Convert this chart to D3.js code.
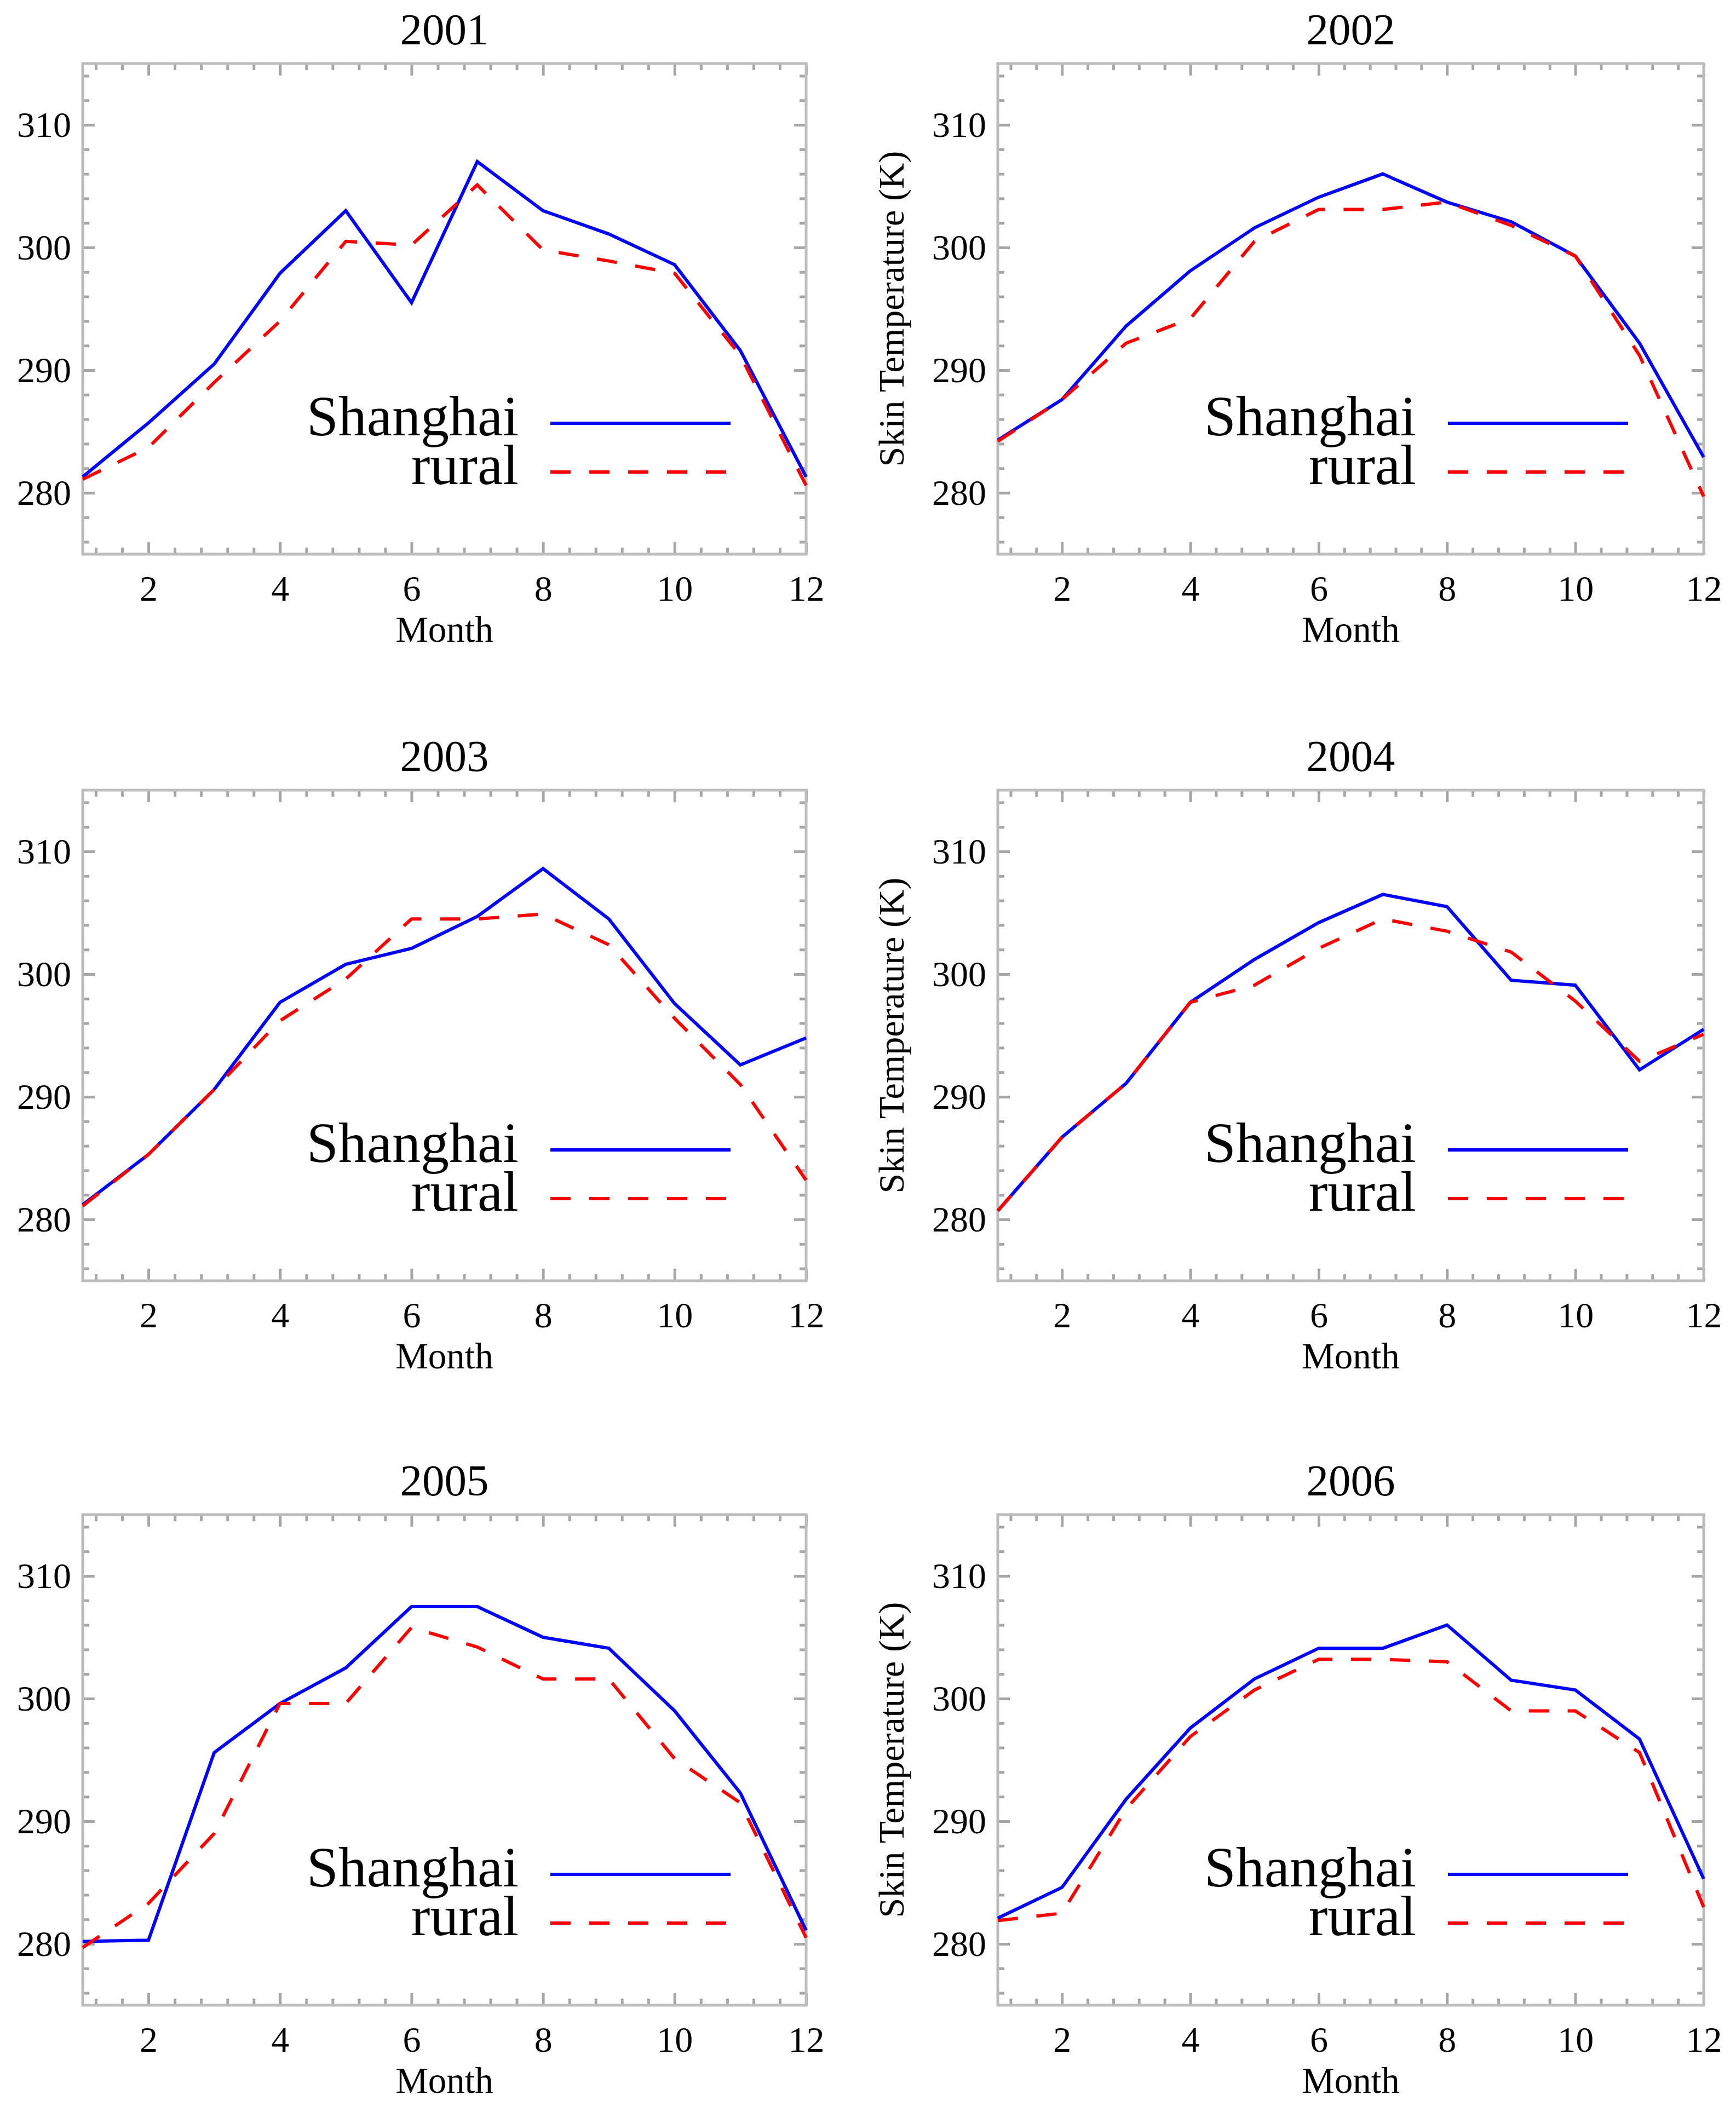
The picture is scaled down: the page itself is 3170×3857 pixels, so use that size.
<!DOCTYPE html>
<html>
<head>
<meta charset="utf-8">
<script src="https://cdn.jsdelivr.net/npm/d3@7"></script>
<style>
  body { margin: 0; background: white; }
  svg { display: block; }
</style>
</head>
<body>
<script>
// monthly skin temperature (K), Shanghai vs rural
const months = d3.range(1, 13);
const years = [2001, 2002, 2003, 2004, 2005, 2006];

const shanghai2001 = [281.3, 285.7, 290.5, 297.9, 303.0, 295.5, 307.0, 303.0, 301.1, 298.6, 291.6, 281.3];
const rural2001    = [281.1, 283.7, 289.0, 294.0, 300.5, 300.2, 305.1, 299.8, 298.9, 297.9, 291.2, 280.6];
const shanghai2002 = [284.3, 287.6, 293.6, 298.1, 301.6, 304.1, 306.0, 303.7, 302.1, 299.3, 292.2, 282.9];
const rural2002    = [284.2, 287.6, 292.2, 294.2, 300.5, 303.1, 303.1, 303.7, 301.8, 299.3, 291.2, 279.7];
const shanghai2003 = [281.2, 285.3, 290.6, 297.7, 300.8, 302.1, 304.7, 308.6, 304.5, 297.6, 292.6, 294.8];
const rural2003    = [281.1, 285.3, 290.6, 296.2, 299.6, 304.5, 304.5, 304.9, 302.4, 296.4, 291.0, 283.2];
const shanghai2004 = [280.7, 286.7, 291.1, 297.7, 301.2, 304.2, 306.5, 305.5, 299.5, 299.1, 292.2, 295.5];
const rural2004    = [280.7, 286.7, 291.1, 297.7, 299.1, 302.1, 304.5, 303.5, 301.8, 297.8, 292.9, 295.1];
const shanghai2005 = [280.2, 280.3, 295.6, 299.6, 302.5, 307.5, 307.5, 305.0, 304.1, 299.0, 292.3, 281.1];
const rural2005    = [279.7, 283.3, 289.0, 299.6, 299.6, 305.8, 304.2, 301.6, 301.6, 295.1, 291.5, 280.5];
const shanghai2006 = [282.1, 284.6, 291.8, 297.6, 301.6, 304.1, 304.1, 306.0, 301.5, 300.7, 296.7, 285.3];
const rural2006    = [281.9, 282.5, 291.0, 296.9, 300.7, 303.2, 303.2, 303.0, 299.0, 299.0, 295.6, 283.0];

const shanghai = [shanghai2001, shanghai2002, shanghai2003, shanghai2004, shanghai2005, shanghai2006];
const rural = [rural2001, rural2002, rural2003, rural2004, rural2005, rural2006];

const xTicks = [2, 4, 6, 8, 10, 12];
const yTicks = [280, 290, 300, 310];

const width = 3141;
const height = 3857;
const font = "'Liberation Serif', 'Times New Roman', serif";

// panel frames
const cols = [
  { x0: 151, x1: 1472, ylabel: false },
  { x0: 1822, x1: 3111, ylabel: true },
];
const rowTops = [116, 1443, 2766];
const plotH = 896;

const svg = d3
  .select("body")
  .append("svg")
  .attr("width", width)
  .attr("height", height)
  .attr("viewBox", [0, 0, width, height]);

const frameColor = "#bdbdbd";
const tickColor = "#a6a6a6";

years.forEach((year, i) => {
  const col = cols[i % 2];
  const top = rowTops[Math.floor(i / 2)];
  const bottom = top + plotH;

  const x = d3.scaleLinear().domain([1, 12]).range([col.x0, col.x1]);
  const y = d3.scaleLinear().domain([275, 315]).range([bottom, top]);

  const g = svg.append("g").attr("font-family", font);

  const xMinor = d3.range(1.2, 12.01, 0.4).filter((v) => Math.abs(v / 2 - Math.round(v / 2)) > 0.01);
  const yMinor = d3.range(276, 315, 2).filter((v) => v % 10 !== 0);

  const styleAxis = (sel) => {
    sel.select(".domain").remove();
    sel.selectAll("line").attr("stroke", tickColor).attr("stroke-width", 5);
    sel.selectAll("text").attr("fill", "black").attr("font-size", 66).attr("font-family", font);
  };

  // bottom
  g.append("g").attr("transform", `translate(0,${bottom})`)
    .call(d3.axisBottom(x).tickValues(xTicks).tickSize(-22).tickPadding(38).tickFormat(d3.format("d")))
    .call(styleAxis);
  g.append("g").attr("transform", `translate(0,${bottom})`)
    .call(d3.axisBottom(x).tickValues(xMinor).tickSize(-12).tickFormat(""))
    .call(styleAxis);
  // top
  g.append("g").attr("transform", `translate(0,${top})`)
    .call(d3.axisTop(x).tickValues(xTicks).tickSize(-22).tickFormat(""))
    .call(styleAxis);
  g.append("g").attr("transform", `translate(0,${top})`)
    .call(d3.axisTop(x).tickValues(xMinor).tickSize(-12).tickFormat(""))
    .call(styleAxis);
  // left
  g.append("g").attr("transform", `translate(${col.x0},0)`)
    .call(d3.axisLeft(y).tickValues(yTicks).tickSize(-22).tickPadding(21).tickFormat(d3.format("d")))
    .call(styleAxis);
  g.append("g").attr("transform", `translate(${col.x0},0)`)
    .call(d3.axisLeft(y).tickValues(yMinor).tickSize(-12).tickFormat(""))
    .call(styleAxis);
  // right
  g.append("g").attr("transform", `translate(${col.x1},0)`)
    .call(d3.axisRight(y).tickValues(yTicks).tickSize(-22).tickFormat(""))
    .call(styleAxis);
  g.append("g").attr("transform", `translate(${col.x1},0)`)
    .call(d3.axisRight(y).tickValues(yMinor).tickSize(-12).tickFormat(""))
    .call(styleAxis);

  g.append("rect")
    .attr("x", col.x0)
    .attr("y", top)
    .attr("width", col.x1 - col.x0)
    .attr("height", plotH)
    .attr("fill", "none")
    .attr("stroke", frameColor)
    .attr("stroke-width", 5);

  const line = d3.line().x((d, j) => x(months[j])).y((d) => y(d));

  g.append("path")
    .datum(shanghai[i])
    .attr("d", line)
    .attr("fill", "none")
    .attr("stroke", "#0000ff")
    .attr("stroke-width", 6);

  g.append("path")
    .datum(rural[i])
    .attr("d", line)
    .attr("fill", "none")
    .attr("stroke", "#ff0000")
    .attr("stroke-width", 6)
    .attr("stroke-dasharray", "37,34");

  // titles
  g.append("text")
    .attr("x", (col.x0 + col.x1) / 2)
    .attr("y", top - 35)
    .attr("text-anchor", "middle")
    .attr("font-size", 81)
    .text(year);

  g.append("text")
    .attr("x", (col.x0 + col.x1) / 2)
    .attr("y", bottom + 160)
    .attr("text-anchor", "middle")
    .attr("font-size", 67)
    .text("Month");

  if (col.ylabel) {
    g.append("text")
      .attr("transform", `translate(${col.x0 - 172},${(top + bottom) / 2}) rotate(-90)`)
      .attr("text-anchor", "middle")
      .attr("font-size", 66)
      .text("Skin Temperature (K)");
  }

  // legend
  const lg = g.append("g").attr("font-size", 104).attr("text-anchor", "end");
  lg.append("text").attr("x", col.x1 - 525).attr("y", top + 679).text("Shanghai");
  lg.append("text").attr("x", col.x1 - 525).attr("y", top + 768).text("rural");
  lg.append("line")
    .attr("x1", col.x1 - 467).attr("x2", col.x1 - 138)
    .attr("y1", top + 657).attr("y2", top + 657)
    .attr("stroke", "#0000ff").attr("stroke-width", 6);
  lg.append("line")
    .attr("x1", col.x1 - 467).attr("x2", col.x1 - 145)
    .attr("y1", top + 746).attr("y2", top + 746)
    .attr("stroke", "#ff0000").attr("stroke-width", 6)
    .attr("stroke-dasharray", "37,34");
});
</script>
</body>
</html>
